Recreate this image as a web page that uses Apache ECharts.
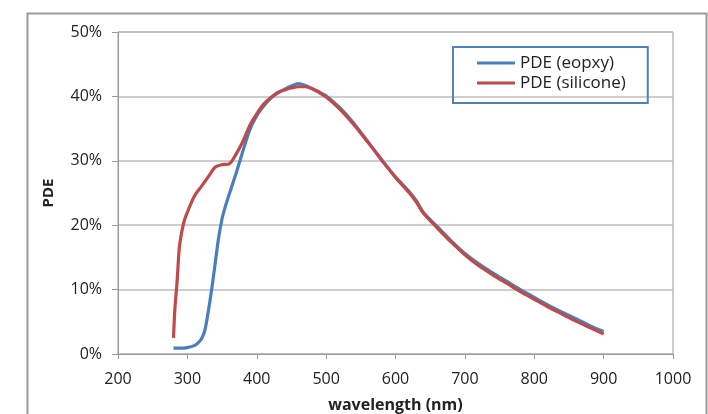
<!DOCTYPE html>
<html>
<head>
<meta charset="utf-8">
<script src="https://cdn.jsdelivr.net/npm/echarts@6/dist/echarts.min.js"></script>
<style>
html,body{margin:0;padding:0;background:#fff;}
#chart{width:708px;height:414px;}
</style>
</head>
<body>
<div id="chart"></div>
<script>
// Data
const epoxyWavelength = [280,290,300,310,315,320,325,330,335,340,345,350,355,360,370,380,390,400,410,420,430,440,450,460,470,480,490,500,520,540,560,580,600,620,630,640,660,680,700,720,740,760,780,800,820,840,860,880,900];
const epoxyPDE = [0.9,0.9,1.0,1.3,1.7,2.3,3.6,6.5,10,14,18,21,23,24.7,28,31.5,34.8,37,38.5,39.7,40.5,41.1,41.6,42.0,41.7,41.2,40.7,40.1,38.2,35.8,33,30.2,27.5,25.2,23.8,22.0,19.8,17.6,15.6,14,12.6,11.3,10,8.8,7.6,6.5,5.5,4.4,3.5];

const siliconeWavelength = [280,282,285,288,290,295,300,310,320,330,340,350,360,370,380,390,400,410,420,430,440,450,460,470,480,490,500,520,540,560,580,600,620,630,640,660,680,700,720,740,760,780,800,820,840,860,880,900];
const siliconePDE = [2.5,7,11,16,17.8,20.5,22,24.5,26,27.5,29,29.4,29.5,31,33,35.5,37.3,38.8,39.8,40.6,41,41.3,41.5,41.5,41.2,40.6,39.9,38,35.6,32.9,30.1,27.4,25.0,23.6,21.9,19.6,17.4,15.4,13.7,12.3,11,9.7,8.5,7.3,6.2,5.1,4.1,3.1];

const seriesNames = ['PDE (eopxy)', 'PDE (silicone)'];
const xTicks = {min: 200, max: 1000, step: 100};
const yTicks = {min: 0, max: 50, step: 10};

const pair = (xs, ys) => xs.map((x, i) => [x, ys[i]]);

const FONT = 'Open Sans';
const chart = echarts.init(document.getElementById('chart'), null, {renderer: 'canvas'});
chart.setOption({
  animation: false,
  backgroundColor: '#ffffff',
  textStyle: {fontFamily: FONT},
  graphic: [{
    type: 'rect', left: 25, top: 11,
    shape: {width: 679, height: 430},
    style: {fill: 'none', stroke: '#9a9a9a', lineWidth: 2},
    silent: true, z: -1
  }],
  grid: {
    left: 118, right: 35, top: 32, bottom: 60,
    containLabel: false, outerBoundsMode: 'none',
    show: true, borderColor: '#9a9a9a', borderWidth: 1
  },
  legend: {
    orient: 'vertical',
    left: 453, top: 47,
    data: seriesNames,
    icon: 'rect',
    itemWidth: 38, itemHeight: 3,
    itemGap: 0,
    padding: [6, 22, 10, 24],
    borderColor: '#4f81bd', borderWidth: 2,
    textStyle: {fontFamily: FONT, fontSize: 17, color: '#222', lineHeight: 20}
  },
  xAxis: {
    type: 'value',
    min: xTicks.min, max: xTicks.max, interval: xTicks.step,
    name: 'wavelength (nm)',
    nameLocation: 'middle', nameGap: 43,
    nameTextStyle: {fontFamily: FONT, fontSize: 16, fontWeight: 'bold', color: '#222'},
    axisLine: {show: true, lineStyle: {color: '#9a9a9a', width: 1}},
    axisTick: {show: true, length: 5, lineStyle: {color: '#9a9a9a'}},
    axisLabel: {margin: 17, fontFamily: FONT, fontSize: 16, color: '#222', formatter: (v) => String(v)},
    splitLine: {show: false}
  },
  yAxis: {
    type: 'value',
    min: yTicks.min, max: yTicks.max, interval: yTicks.step,
    name: 'PDE',
    nameLocation: 'middle', nameGap: 62, nameRotate: 90,
    nameTextStyle: {fontFamily: FONT, fontSize: 15, fontWeight: 'bold', color: '#222'},
    axisLine: {show: true, lineStyle: {color: '#9a9a9a', width: 1}},
    axisTick: {show: true, length: 6, lineStyle: {color: '#9a9a9a'}},
    axisLabel: {margin: 16, fontFamily: FONT, fontSize: 16, color: '#222', formatter: '{value}%'},
    splitLine: {show: true, lineStyle: {color: '#bdbdbd', width: 1.5}}
  },
  series: [
    {
      name: seriesNames[0], type: 'line', data: pair(epoxyWavelength, epoxyPDE),
      showSymbol: false, symbol: 'none', smooth: 0.3,
      lineStyle: {color: '#4a7ebb', width: 3.2}, itemStyle: {color: '#4a7ebb'}
    },
    {
      name: seriesNames[1], type: 'line', data: pair(siliconeWavelength, siliconePDE),
      showSymbol: false, symbol: 'none', smooth: 0.3,
      lineStyle: {color: '#be4b48', width: 3.2}, itemStyle: {color: '#be4b48'}
    }
  ]
});
</script>
</body>
</html>
